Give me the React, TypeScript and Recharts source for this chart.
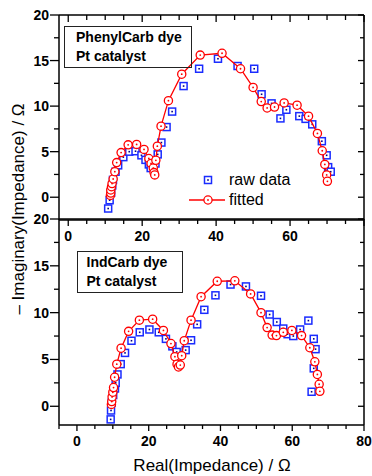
import React from 'react';
import { ComposedChart, Scatter, XAxis, YAxis } from 'recharts';

// PhenylCarb dye panel (top)
const phenylRawX = [10.8, 11.2, 11.6, 11.9, 12.1, 12.8, 13.5, 14.9, 16.5, 18.2, 19.8, 20.9, 21.8, 22.3, 23.6, 24.2, 25.2, 26.6, 28.1, 31.2, 35.4, 40.5, 45.8, 50.3, 52.3, 55.0, 57.4, 59.0, 62.5, 64.2, 66.0, 68.6, 69.9, 70.3, 71.0];
const phenylRawY = [-1.24, -0.33, 0.5, 1.3, 1.9, 2.8, 3.5, 4.4, 5.0, 5.05, 4.6, 4.1, 3.6, 3.2, 3.7, 4.7, 6.0, 7.7, 9.4, 12.2, 14.1, 15.2, 14.4, 14.1, 11.3, 10.3, 8.65, 9.6, 8.9, 8.6, 8.0, 6.15, 4.6, 3.3, 2.8];
const phenylFitX = [11.4, 11.5, 11.5, 11.7, 11.85, 12.15, 12.6, 13.1, 14.3, 16.2, 18.5, 20.5, 21.8, 22.4, 23.0, 23.2, 23.4, 23.7, 24.1, 25.1, 27.1, 30.7, 35.7, 41.6, 46.6, 50.0, 52.2, 53.8, 55.8, 58.4, 61.9, 65.0, 67.4, 68.7, 69.4, 69.9, 70.1];
const phenylFitY = [0.2, 0.45, 0.8, 1.15, 1.5, 2.0, 2.8, 3.8, 4.9, 5.75, 5.8, 5.25, 4.25, 3.7, 3.2, 2.7, 2.45, 4.05, 5.6, 7.8, 10.6, 13.5, 15.6, 15.8, 14.1, 12.05, 10.5, 9.8, 9.9, 10.35, 10.1, 8.9, 7.0, 5.1, 3.6, 2.45, 1.75];

// IndCarb dye panel (bottom)
const indRawX = [9.4, 9.5, 9.7, 10.1, 10.6, 10.8, 11.3, 12.2, 13.4, 15.2, 17.5, 20.2, 22.8, 24.8, 26.6, 27.8, 30.3, 31.8, 33.5, 35.5, 38.6, 42.8, 47.1, 51.3, 53.7, 55.7, 57.5, 58.7, 60.3, 62.2, 64.5, 66.0, 66.5, 66.0, 65.4];
const indRawY = [-1.4, -0.45, 0.4, 1.2, 1.9, 2.5, 3.4, 4.5, 5.7, 7.0, 7.9, 8.2, 7.9, 7.2, 6.4, 5.8, 6.0, 7.05, 8.75, 10.3, 11.85, 13.0, 12.8, 11.8, 9.8, 9.0, 8.3, 7.7, 7.5, 8.2, 9.15, 7.2, 6.1, 4.05, 1.55];
const indFitX = [9.6, 9.7, 9.8, 10.0, 10.2, 10.5, 11.1, 12.3, 14.4, 17.4, 21.1, 24.1, 26.2, 27.3, 27.9, 28.3, 28.8, 29.2, 29.9, 31.8, 34.6, 39.1, 44.0, 48.4, 51.3, 53.0, 54.4, 55.6, 57.5, 59.9, 62.6, 64.9, 66.3, 67.0, 67.5, 67.7];
const indFitY = [0.2, 0.5, 1.0, 1.5, 2.0, 3.1, 4.5, 6.2, 8.0, 9.2, 9.3, 8.1, 6.7, 5.3, 4.5, 4.2, 4.4, 5.4, 7.0, 9.2, 11.7, 13.35, 13.4, 12.0, 10.0, 8.4, 7.6, 7.55, 7.9, 8.1, 7.55, 6.25, 4.75, 3.4, 2.35, 1.6];

// ticks (major every 20 / 5, minor every 5 / 2.5)
const topXTicks = [0, 5, 10, 15, 20, 25, 30, 35, 40, 45, 50, 55, 60, 65, 70, 75, 80];
const bottomXTicks = [-5, 0, 5, 10, 15, 20, 25, 30, 35, 40, 45, 50, 55, 60, 65, 70, 75, 80];
const yTicks = [0, 2.5, 5, 7.5, 10, 12.5, 15, 17.5, 20];

const zip = (xs: number[], ys: number[]) => xs.map((x, i) => ({ x, y: ys[i] }));

const BLUE = '#1a2cff';
const RED = '#ff0000';
const FONT = '"Liberation Sans", Arial, sans-serif';

const SquareDot = (props: any) => {
  const { cx, cy } = props;
  return (
    <g>
      <rect x={cx - 3.5} y={cy - 3.5} width={7} height={7} fill="#fff" stroke={BLUE} strokeWidth={1.5} />
      <rect x={cx - 0.8} y={cy - 0.8} width={1.6} height={1.6} fill="#00008a" />
    </g>
  );
};

const CircleDot = (props: any) => {
  const { cx, cy } = props;
  return (
    <g>
      <circle cx={cx} cy={cy} r={4.1} fill="#fff" stroke={RED} strokeWidth={1.3} />
      <circle cx={cx} cy={cy} r={0.9} fill={RED} />
    </g>
  );
};

// tick renderers (tickSize/tickMargin are 0, so x/y is on the axis line)
const makeBottomTick = (labelMax: number) => (props: any) => {
  const { x, y, payload } = props;
  const v = payload.value;
  const major = v % 20 === 0;
  return (
    <g>
      <line x1={x} x2={x} y1={y} y2={y + (major ? 6 : 4)} stroke="#000" strokeWidth={1.3} />
      {major && v <= labelMax && (
        <text x={x} y={y + 16} textAnchor="middle" dominantBaseline="central" fontWeight="bold" fontSize={14} fill="#000">
          {v}
        </text>
      )}
    </g>
  );
};

const TopTick = (props: any) => {
  const { x, y, payload } = props;
  const major = payload.value % 20 === 0;
  return <line x1={x} x2={x} y1={y} y2={y + (major ? 7 : 5)} stroke="#000" strokeWidth={1.3} />;
};

const LeftTick = (props: any) => {
  const { x, y, payload } = props;
  const v = payload.value;
  const major = v % 5 === 0;
  return (
    <g>
      <line x1={x - (major ? 9 : 5)} x2={x} y1={y} y2={y} stroke="#000" strokeWidth={1.3} />
      {major && (
        <text x={x - 10} y={y} textAnchor="end" dominantBaseline="central" fontWeight="bold" fontSize={14} fill="#000">
          {v}
        </text>
      )}
    </g>
  );
};

const RightTick = (props: any) => {
  const { x, y, payload } = props;
  const major = payload.value % 5 === 0;
  return <line x1={x - (major ? 6 : 4)} x2={x} y1={y} y2={y} stroke="#000" strokeWidth={1.3} />;
};

const axisLine = { stroke: '#000', strokeWidth: 1.5 };

type PanelProps = {
  raw: { x: number; y: number }[];
  fit: { x: number; y: number }[];
  xDomain: [number, number];
  yDomain: [number, number];
  xTicks: number[];
  height: number;
  topH: number;
  bottomH: number;
  labelMax: number;
  topTicks: boolean;
};

const Panel = ({ raw, fit, xDomain, yDomain, xTicks, height, topH, bottomH, labelMax, topTicks }: PanelProps) => (
  <ComposedChart width={372} height={height} margin={{ top: 0, right: 0, bottom: 0, left: 0 }}>
    <XAxis
      xAxisId="b"
      type="number"
      dataKey="x"
      domain={xDomain}
      allowDataOverflow
      ticks={xTicks}
      interval={0}
      height={bottomH}
      tickSize={0}
      tickMargin={0}
      tickLine={false}
      axisLine={axisLine}
      tick={makeBottomTick(labelMax)}
    />
    <XAxis
      xAxisId="t"
      orientation="top"
      type="number"
      dataKey="x"
      domain={xDomain}
      allowDataOverflow
      ticks={xTicks}
      interval={0}
      height={topH}
      tickSize={0}
      tickMargin={0}
      tickLine={false}
      axisLine={axisLine}
      tick={topTicks ? TopTick : false}
    />
    <YAxis
      yAxisId="l"
      type="number"
      dataKey="y"
      domain={yDomain}
      allowDataOverflow
      ticks={yTicks}
      interval={0}
      width={59}
      tickSize={0}
      tickMargin={0}
      tickLine={false}
      axisLine={axisLine}
      tick={LeftTick}
    />
    <YAxis
      yAxisId="r"
      orientation="right"
      type="number"
      dataKey="y"
      domain={yDomain}
      allowDataOverflow
      ticks={yTicks}
      interval={0}
      width={8}
      tickSize={0}
      tickMargin={0}
      tickLine={false}
      axisLine={axisLine}
      tick={RightTick}
    />
    <Scatter xAxisId="b" yAxisId="l" data={raw} shape={SquareDot} isAnimationActive={false} />
    <Scatter
      xAxisId="b"
      yAxisId="l"
      data={fit}
      shape={CircleDot}
      line={{ stroke: RED, strokeWidth: 1.3 }}
      lineType="joint"
      isAnimationActive={false}
    />
  </ComposedChart>
);

const boxStyle: React.CSSProperties = {
  position: 'absolute',
  boxSizing: 'border-box',
  border: '1.5px solid #222',
  fontWeight: 'bold',
  fontSize: 14,
  lineHeight: '19px',
  whiteSpace: 'nowrap',
};

export default function App() {
  return (
    <div style={{ position: 'absolute', left: 0, top: 0, width: 372, height: 476, background: '#fff', fontFamily: FONT, color: '#000' }}>
      <div style={{ position: 'absolute', left: 0, top: 0 }}>
        <Panel
          raw={zip(phenylRawX, phenylRawY)}
          fit={zip(phenylFitX, phenylFitY)}
          xDomain={[-2.5, 80]}
          yDomain={[-2.5, 20]}
          xTicks={topXTicks}
          height={260}
          topH={15}
          bottomH={40}
          labelMax={60}
          topTicks
        />
      </div>
      <div style={{ position: 'absolute', left: 0, top: 200 }}>
        <Panel
          raw={zip(indRawX, indRawY)}
          fit={zip(indFitX, indFitY)}
          xDomain={[-5, 80]}
          yDomain={[-2, 20]}
          xTicks={bottomXTicks}
          height={276}
          topH={19}
          bottomH={51}
          labelMax={80}
          topTicks={false}
        />
      </div>

      <div style={{ ...boxStyle, left: 64, top: 26, width: 128, height: 42, paddingLeft: 11, paddingTop: 1 }}>
        <div>PhenylCarb dye</div>
        <div>Pt catalyst</div>
      </div>
      <div style={{ ...boxStyle, left: 77, top: 251, width: 106, height: 42, paddingLeft: 8.5, paddingTop: 0.5 }}>
        <div>IndCarb dye</div>
        <div>Pt catalyst</div>
      </div>

      <div style={{ position: 'absolute', left: 186, top: 170, fontSize: 16, lineHeight: '20px' }}>
        <div style={{ display: 'flex', alignItems: 'center', height: 20 }}>
          <svg width={40} height={20}>
            <SquareDot cx={22} cy={10} />
          </svg>
          <span style={{ marginLeft: 3 }}>raw data</span>
        </div>
        <div style={{ display: 'flex', alignItems: 'center', height: 20 }}>
          <svg width={40} height={20}>
            <line x1={3} x2={39} y1={10} y2={10} stroke={RED} strokeWidth={1.3} />
            <CircleDot cx={22} cy={10} />
          </svg>
          <span style={{ marginLeft: 3 }}>fitted</span>
        </div>
      </div>

      <div
        style={{
          position: 'absolute',
          left: 19 - 130,
          top: 209 - 10,
          width: 260,
          height: 20,
          lineHeight: '20px',
          fontSize: 17,
          textAlign: 'center',
          transform: 'rotate(-90deg)',
          whiteSpace: 'nowrap',
        }}
      >
        – Imaginary(Impedance) / Ω
      </div>
      <div
        style={{
          position: 'absolute',
          left: 62,
          top: 456,
          width: 300,
          height: 20,
          lineHeight: '20px',
          fontSize: 17,
          textAlign: 'center',
          whiteSpace: 'nowrap',
        }}
      >
        Real(Impedance) / Ω
      </div>
    </div>
  );
}
